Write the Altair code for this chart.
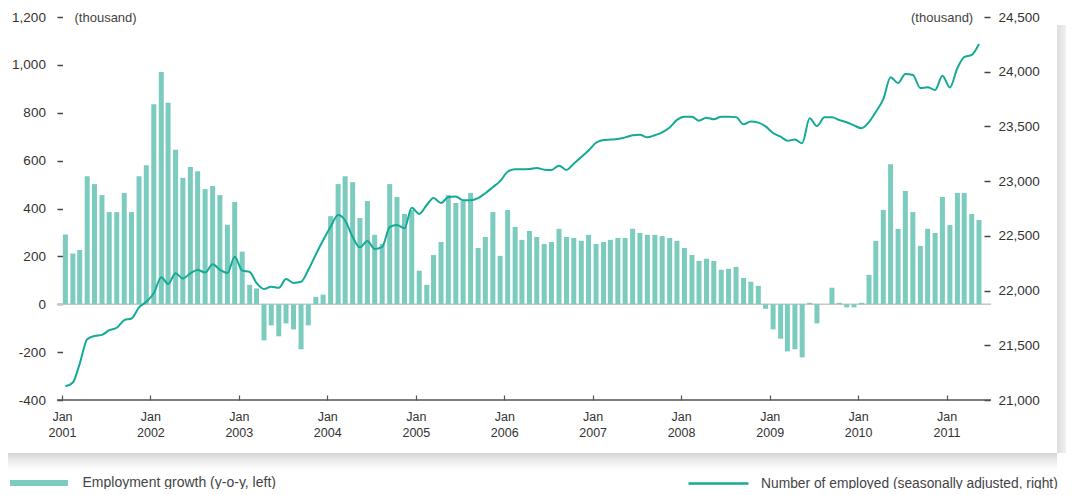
import altair as alt
import pandas as pd

# ---- data ----
growth = [291, 212, 227, 535, 502, 456, 385, 385, 465, 385, 535, 581,
          835, 970, 842, 645, 528, 573, 556, 481, 494, 456, 332, 427,
          220, 81, 66, -151, -88, -134, -80, -105, -188, -88, 31, 40,
          368, 502, 535, 510, 360, 431, 290, 252, 502, 448, 377, 394,
          140, 81, 206, 260, 456, 423, 431, 465, 235, 281, 385, 202,
          394, 323, 269, 306, 281, 252, 260, 315, 281, 277, 265, 290,
          252, 260, 269, 277, 277, 315, 298, 290, 290, 285, 277, 265,
          235, 206, 181, 190, 181, 144, 148, 156, 110, 94, 77, -19,
          -105, -144, -197, -188, -222, 6, -80, 0, 69, 6, -13, -13,
          6, 123, 265, 394, 585, 315, 473, 385, 244, 315, 298, 448,
          331, 465, 465, 377, 352]

employed = [21125, 21160, 21330, 21555, 21585, 21595, 21638, 21660, 21730, 21745, 21847, 21898,
            21975, 22121, 22060, 22158, 22110, 22158, 22188, 22165, 22240, 22190, 22160, 22310,
            22182, 22170, 22070, 22014, 22035, 22025, 22105, 22070, 22080, 22190, 22330, 22460,
            22584, 22690, 22640, 22490, 22395, 22453, 22380, 22400, 22580, 22599, 22569, 22757,
            22700, 22782, 22845, 22800, 22855, 22860, 22825, 22825, 22845, 22890, 22945, 23000,
            23086, 23108, 23108, 23110, 23120, 23105, 23102, 23141, 23102, 23160, 23220, 23280,
            23351, 23376, 23380, 23385, 23400, 23419, 23425, 23400, 23420, 23446, 23490, 23560,
            23589, 23589, 23552, 23580, 23565, 23589, 23589, 23585, 23519, 23545, 23535, 23500,
            23440, 23406, 23370, 23380, 23346, 23574, 23504, 23583, 23583, 23559, 23538, 23510,
            23483, 23540, 23632, 23750, 23949, 23897, 23979, 23970, 23851, 23857, 23833, 23963,
            23856, 24034, 24134, 24153, 24253]

months = (pd.date_range("2001-01-01", periods=len(growth), freq="MS")
          + pd.Timedelta(days=14)).strftime("%Y-%m-%d").tolist()
tick_years = list(range(2001, 2012))
left_ticks = list(range(-400, 1201, 200))
right_ticks = list(range(21000, 24501, 500))

bar_name = "Employment growth (y-o-y, left)"
line_name = "Number of employed (seasonally adjusted, right)"

df = pd.DataFrame({"date": months, "growth": growth, "employed": employed,
                   "s": bar_name, "l": line_name})
one = pd.DataFrame({"k": [0]})

W, H = 934, 383
FONT_AX = "Liberation Sans"
FONT_TXT = "Liberation Sans"
BAR_C = "#7ccbbf"
LINE_C = "#14aa95"

num_fmt = "datum.value < 0 ? '-' + format(-datum.value, ',') : format(datum.value, ',')"

x_enc = alt.X(
    "date:T",
    scale=alt.Scale(domain=[alt.DateTime(year=2001, month=1, date=1),
                            alt.DateTime(year=2011, month=6, date=13)]),
    axis=alt.Axis(values=[alt.DateTime(year=y, month=1, date=1) for y in tick_years],
                  labelExpr="['Jan', timeFormat(datum.value, '%Y')]",
                  title=None, domain=False, grid=False, offset=-5, tickSize=5,
                  tickColor="#555", tickWidth=1.2, labelFont=FONT_AX, labelFontSize=12.5,
                  labelColor="#333", labelPadding=10, labelLineHeight=16.5,
                  labelAlign="center", labelFlush=False, labelOverlap=False),
)

left_scale = alt.Scale(domain=[-400, 1200], nice=False)
left_axis = alt.Axis(orient="left", values=left_ticks, labelExpr=num_fmt,
                     title="(thousand)", titleAngle=0, titleX=11.5, titleY=0,
                     titleAlign="left", titleBaseline="middle", titleFont=FONT_TXT,
                     titleFontSize=13, titleFontWeight="normal", titleColor="#444",
                     domain=False, grid=False, offset=-5.5, tickSize=5.5,
                     tickColor="#444", tickWidth=1.5, labelPadding=11.6,
                     labelFont=FONT_AX, labelFontSize=13.5, labelColor="#333")

right_axis = alt.Axis(orient="right", values=right_ticks, labelExpr=num_fmt,
                      title="(thousand)", titleAngle=0, titleX=-11.3, titleY=0,
                      titleAlign="right", titleBaseline="middle", titleFont=FONT_TXT,
                      titleFontSize=13, titleFontWeight="normal", titleColor="#444",
                      domain=False, grid=False, offset=-7, tickSize=6,
                      tickColor="#444", tickWidth=1.5, labelPadding=8,
                      labelFont=FONT_AX, labelFontSize=13.5, labelColor="#333")

# card shadow (decoration)
shadow_bottom = alt.Chart(one).mark_rect(
    color=alt.LinearGradient(gradient="linear", x1=0, x2=0, y1=0, y2=1,
                             stops=[alt.GradientStop(color="#d4d4d4", offset=0),
                                    alt.GradientStop(color="#ececec", offset=0.45),
                                    alt.GradientStop(color="#ffffff", offset=1)])
).encode(x=alt.value(-49), x2=alt.value(1000), y=alt.value(436), y2=alt.value(453))

shadow_right = alt.Chart(one).mark_rect(
    color=alt.LinearGradient(gradient="linear", x1=0, x2=1, y1=0, y2=0,
                             stops=[alt.GradientStop(color="#dedede", offset=0),
                                    alt.GradientStop(color="#f2f2f2", offset=1)])
).encode(x=alt.value(1000), x2=alt.value(1010), y=alt.value(8), y2=alt.value(436))

zero_rule = alt.Chart(one).mark_rule(color="#c8c8c8", strokeWidth=1.5).encode(
    y=alt.YDatum(0, scale=left_scale, axis=left_axis),
    x=alt.value(0), x2=alt.value(W))

base_rule = alt.Chart(one).mark_rule(color="#555555", strokeWidth=1.3).encode(
    y=alt.YDatum(-400, scale=left_scale, axis=left_axis),
    x=alt.value(0), x2=alt.value(W))

bars = alt.Chart(df).mark_bar(width=5).encode(
    x=x_enc,
    y=alt.Y("growth:Q", scale=left_scale, axis=left_axis),
    color=alt.Color("s:N", scale=alt.Scale(domain=[bar_name], range=[BAR_C]),
                    legend=alt.Legend(orient="none", legendX=-47, legendY=437, title=None,
                                      symbolType="M-1,-0.1H1V0.1H-1Z", symbolSize=3364,
                                      symbolStrokeWidth=0, labelFont=FONT_TXT,
                                      labelFontSize=14, labelColor="#444", labelLimit=0,
                                      labelOffset=14.5, padding=0)),
)

line = alt.Chart(df).mark_line(interpolate="monotone", strokeWidth=2).encode(
    x=x_enc,
    y=alt.Y("employed:Q", scale=alt.Scale(domain=[21000, 24500], nice=False, zero=False),
            axis=right_axis),
    stroke=alt.Stroke("l:N", scale=alt.Scale(domain=[line_name], range=[LINE_C]),
                      legend=alt.Legend(orient="none", legendX=630, legendY=435, title=None,
                                        symbolType="stroke", symbolSize=3600,
                                        symbolStrokeWidth=2.5, labelFont=FONT_TXT,
                                        labelFontSize=13.8, labelColor="#444", labelLimit=0,
                                        labelOffset=11, padding=0)),
)

left = alt.layer(zero_rule, bars, base_rule)

chart = alt.layer(shadow_bottom, shadow_right, left, line).resolve_scale(
    y="independent"
).properties(
    width=W, height=H,
    autosize=alt.AutoSizeParams(type="none"),
    padding={"left": 49, "top": 9, "right": 75, "bottom": 89},
).configure_view(stroke=None)

chart.save("out.html", embed_options={"renderer": "svg", "actions": False})
